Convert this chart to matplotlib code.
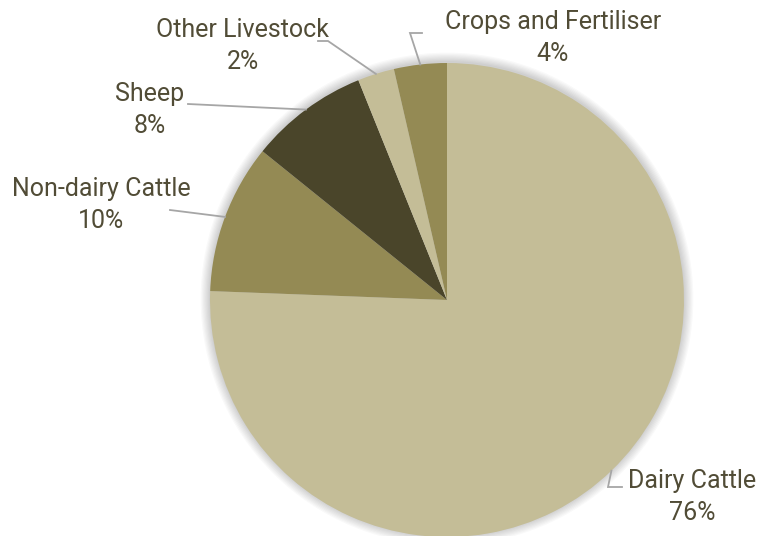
import numpy as np
import matplotlib.pyplot as plt
from matplotlib.patches import Circle

labels = ['Dairy Cattle', 'Non-dairy Cattle', 'Sheep', 'Other Livestock', 'Crops and Fertiliser']
shares = [75.6, 10.2, 8.1, 2.5, 3.6]
pct_text = ['76%', '10%', '8%', '2%', '4%']
colors = ['#C4BD97', '#948A54', '#4A452A', '#C4BD97', '#948A54']

# label centres (pixel space, y up) and elbow points for the leader lines
label_pos = [(692, 39), (101, 331), (150, 426), (243, 490), (553, 498)]
elbows = [(608, 49), (170, 326), (188, 432), (328, 495), (410, 503)]
line_ends = [(622, 49), (170, 326), (188, 432), (318, 495), (422, 503)]

plt.rcParams['font.family'] = ['Roboto', 'DejaVu Sans']

fig = plt.figure(figsize=(7.58, 5.36), dpi=100)
ax = fig.add_axes([0, 0, 1, 1])

cx, cy, r = 447, 236, 237

# soft shadow around the pie
for k in range(8):
    ax.add_patch(Circle((cx, cy + 1), r + 1 + k * 1.2, color='black',
                        alpha=0.025, lw=0, zorder=0))

wedges, _ = ax.pie(shares, colors=colors, startangle=90, counterclock=False,
                   center=(cx, cy), radius=r, frame=True,
                   wedgeprops=dict(linewidth=0))
ax.set_xlim(0, 758)
ax.set_ylim(0, 536)
ax.set_aspect('equal')
ax.axis('off')

txt_color = '#514C36'
for w, lab, pct, lp, el, le in zip(wedges, labels, pct_text, label_pos, elbows, line_ends):
    mid = np.deg2rad((w.theta1 + w.theta2) / 2)
    px, py = cx + r * np.cos(mid), cy + r * np.sin(mid)
    ax.plot([px, el[0], le[0]], [py, el[1], le[1]], color='#A6A6A6', lw=1.3,
            solid_joinstyle='miter', zorder=3)
    ax.text(lp[0], lp[1], lab + '\n' + pct, ha='center', va='center',
            fontsize=18, color=txt_color, linespacing=1.45)

fig.savefig('out.png', dpi=100)
